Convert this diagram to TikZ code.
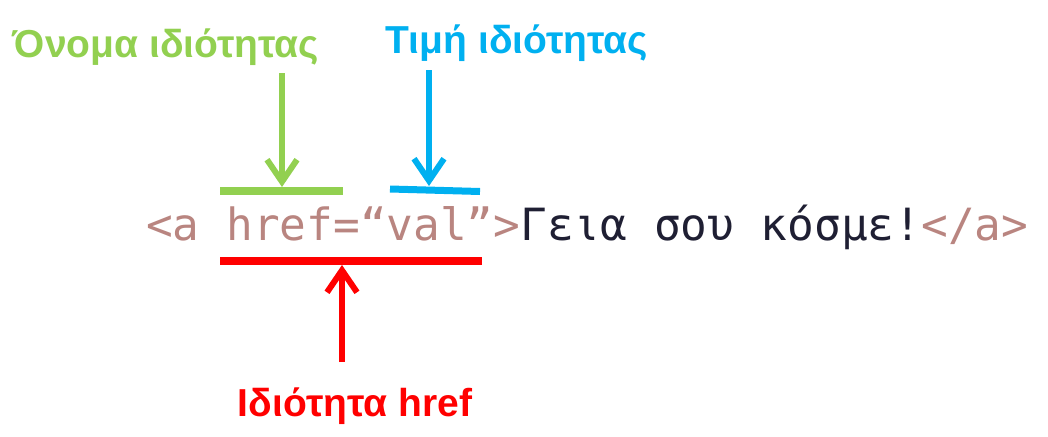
\documentclass[tikz,border=0pt]{standalone}
\usepackage{fontspec}
\setmainfont{Liberation Sans}
\newfontfamily\codefont{DejaVu Sans Mono}
\usetikzlibrary{arrows.meta}
\definecolor{cgreen}{HTML}{92D050}
\definecolor{cblue}{HTML}{00B0F0}
\definecolor{cred}{HTML}{FF0000}
\definecolor{ctag}{HTML}{B98580}
\definecolor{ctext}{HTML}{1F1F33}
\begin{document}
\begin{tikzpicture}[x=1pt,y=-1pt,
  lbl/.style={inner sep=0pt,anchor=base,font=\fontsize{39}{42}\selectfont\bfseries},
  bar/.style={line width=8pt},
  pointer/.style={line width=6pt,-{Straight Barb[length=22pt,width=30pt,line width=6pt]}}]
\fill[white] (0,0) rectangle (1048,436);
\useasboundingbox (0,0) rectangle (1048,436);
% labels
\node[lbl,text=cgreen] (gname) at (166,57) {Όνομα ιδιότητας};
\node[lbl,text=cblue] (bname) at (517,54) {Τιμή ιδιότητας};
\node[lbl,text=cred] (rname) at (355,416) {Ιδιότητα href};
% code line
\node[inner sep=0pt,anchor=base west,font=\codefont\fontsize{44.4}{48}\selectfont] (code) at (146,240)
  {\textcolor{ctag}{<a href=“val”>}\textcolor{ctext}{Γεια σου κόσμε!}\textcolor{ctag}{</a>}};
% bars
\coordinate (g1) at (220,191); \coordinate (g2) at (343,191);
\coordinate (b1) at (390,189); \coordinate (b2) at (480,191.5);
\coordinate (r1) at (220,261); \coordinate (r2) at (482,261);
\draw[bar,cgreen] (g1) -- (g2);
\draw[bar,cblue,line width=7pt] (b1) -- (b2);
\draw[bar,cred] (r1) -- (r2);
% arrows
\coordinate (ga) at (282,73); \coordinate (gt) at (282,187);
\coordinate (ba) at (429,70); \coordinate (bt) at (429,186);
\coordinate (ra) at (342,362); \coordinate (rt) at (342,265);
\draw[pointer,cgreen] (ga) -- (gt);
\draw[pointer,cblue] (ba) -- (bt);
\draw[pointer,cred] (ra) -- (rt);
\end{tikzpicture}
\end{document}
